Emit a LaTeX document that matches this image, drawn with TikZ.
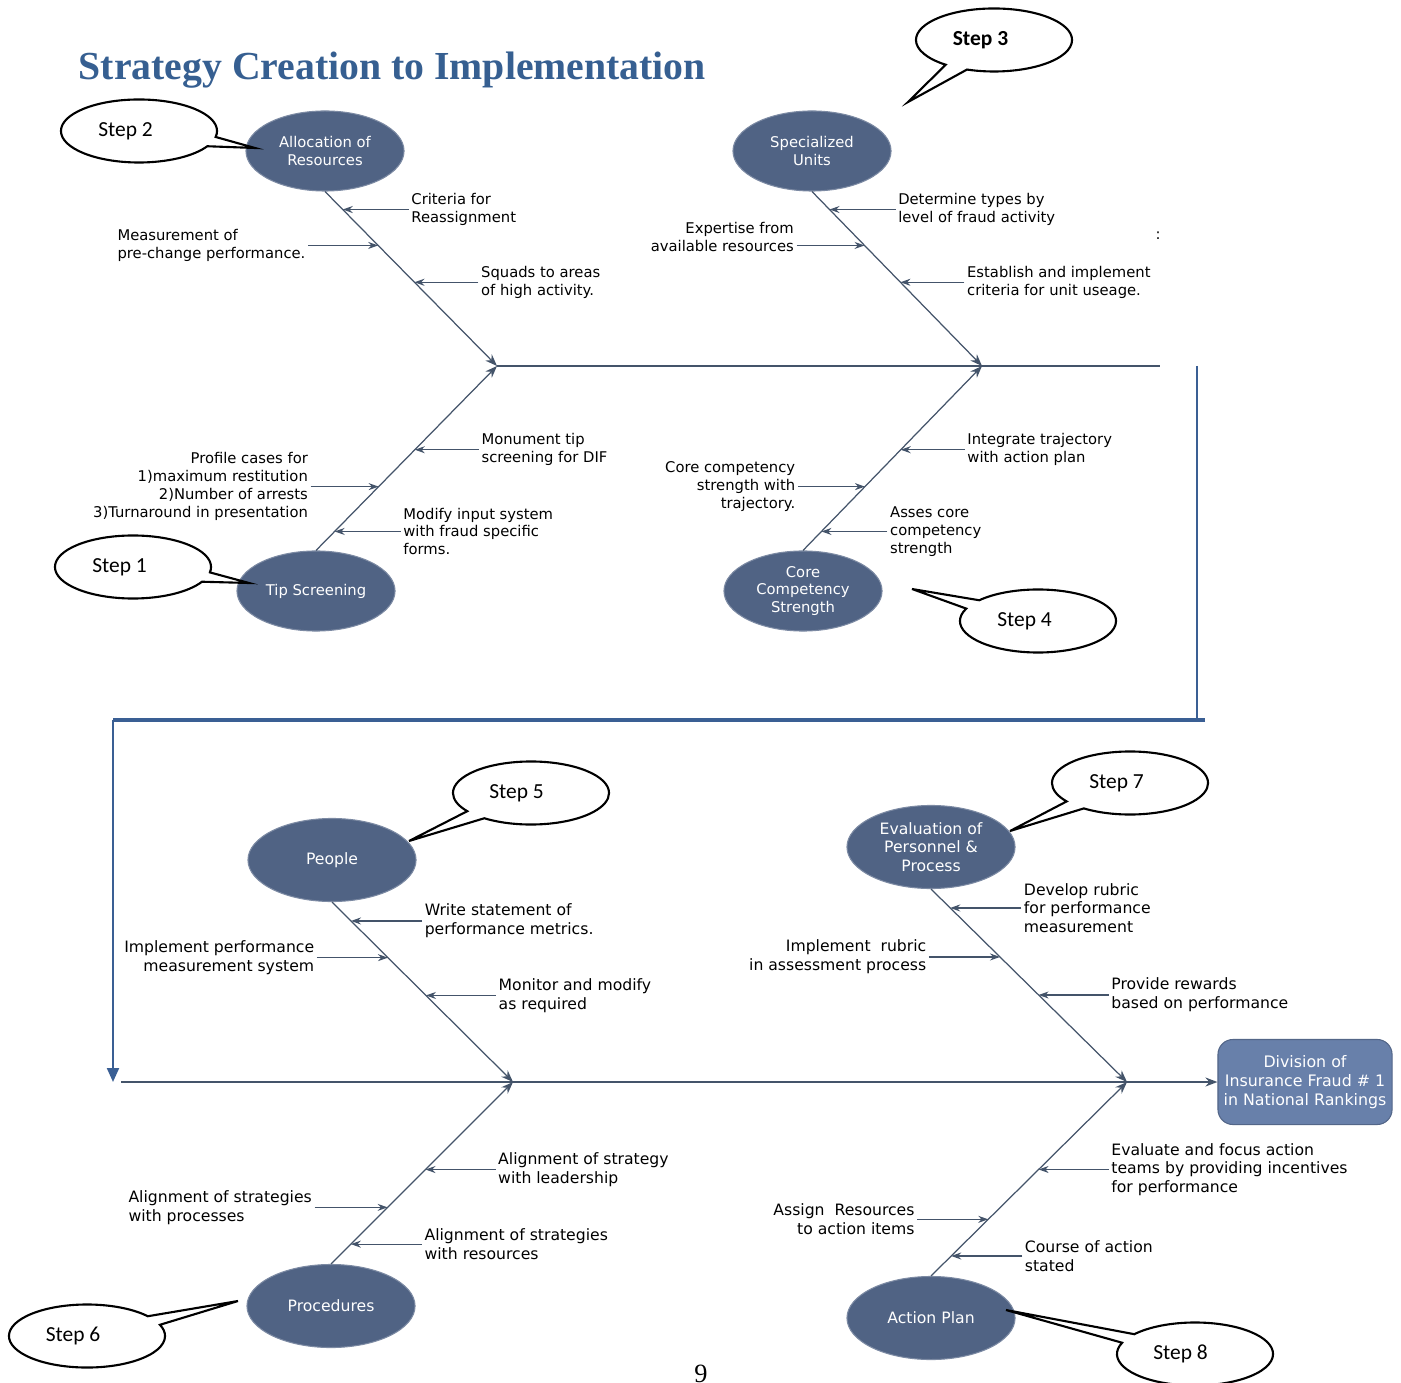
\documentclass[tikz,border=0pt]{standalone}
\usepackage{fontspec}
\setmainfont{DejaVu Sans}
\newfontfamily\stepfont{Carlito}
\newfontfamily\headfont{Liberation Serif}
\usepackage{tikz}
\usetikzlibrary{shapes, shapes.callouts, calc, positioning, arrows.meta}
\definecolor{bonecol}{RGB}{68,84,106}
\definecolor{causefill}{RGB}{80,99,132}
\definecolor{flowcol}{RGB}{58,95,148}
\definecolor{headcol}{RGB}{54,95,145}
\definecolor{goalfill}{RGB}{104,128,170}
\newcommand*{\txt}{\fontsize{4.2}{5.1}\selectfont}
\newcommand*{\txtb}{\fontsize{4.45}{5.3}\selectfont}
\tikzset{
 cause/.style={ellipse, fill=causefill, draw=causefill!75!white, line width=0.3pt, text=white, inner sep=0pt, minimum width=1.58cm, minimum height=0.8cm, align=center, font=\txt},
 bigcause/.style={cause, minimum width=1.68cm, minimum height=0.83cm, font=\txtb},
 stepcall/.style={ellipse callout, draw=black, line width=0.6pt, fill=white, inner sep=0pt, minimum width=1.56cm, minimum height=0.63cm, callout pointer arc=18, font=\stepfont\fontsize{6.1}{7}\selectfont},
 bone/.style={draw=bonecol, line width=0.35pt, -{Stealth[length=1.2mm, width=0.9mm]}},
 sub/.style={draw=bonecol, line width=0.35pt, -{Stealth[length=1mm, width=0.7mm]}},
 spine/.style={draw=bonecol, line width=0.5pt},
 flow/.style={draw=flowcol, line width=0.6pt},
 lbl/.style={font=\txt, inner sep=0.02cm, align=left},
 rlbl/.style={font=\txt, inner sep=0.02cm, align=right},
 lblb/.style={lbl, font=\txtb},
 rlblb/.style={rlbl, font=\txtb},
 goalbox/.style={rectangle, rounded corners=0.15cm, fill=goalfill, draw=goalfill!80!black, line width=0.3pt, text=white, minimum width=1.74cm, minimum height=0.85cm, inner sep=0pt, align=center, font=\fontsize{4.5}{5.4}\selectfont},
}

\begin{document}
\begin{tikzpicture}[x=0.01cm, y=-0.01cm]
 \useasboundingbox (0,0) rectangle (1401,1383);
 \node[anchor=base west, text=headcol, inner sep=0, font=\headfont\bfseries\fontsize{11.3}{13}\selectfont] (title) at (78,80) {Strategy Creation to Implementation};

 \node[cause] (alloc) at (325,151) {Allocation of\\Resources};
 \node[cause] (spec) at (812,151) {Specialized\\Units};
 \node[cause] (tip) at (316,591) {Tip Screening};
 \node[cause] (core) at (803,591) {Core\\Competency\\Strength};
 \node[bigcause] (people) at (332,860) {People};
 \node[bigcause] (evalp) at (931,847) {Evaluation of\\Personnel \&\\Process};
 \node[bigcause] (proc) at (331,1306) {Procedures};
 \node[bigcause] (action) at (931,1318) {Action Plan};
 \node[goalbox] (goal) at (1305,1082) {Division of\\Insurance Fraud \# 1\\in National Rankings};

 \coordinate (j1) at (497,366);
 \coordinate (j2) at (982,366);
 \coordinate (j3) at (513,1082);
 \coordinate (j4) at (1127,1082);
 \coordinate (s1) at (1160,366);
 \coordinate (s3) at (121,1082);
 \coordinate (f1) at (1197,366);
 \coordinate (f2) at (1197,720);
 \coordinate (f3) at (1205,720);
 \coordinate (f4) at (113,720);
 \coordinate (f5) at (113,1082);

 \draw[spine] (j1) -- (s1);
 \draw[flow] (f1) -- (f2);
 \draw[flow, line width=1pt] (f3) -- (f4);
 \draw[flow, -{Triangle[length=1.4mm, width=1.2mm]}] (f4) -- (f5);
 \draw[spine, -{Stealth[length=1.2mm, width=0.9mm]}] (s3) -- (goal.west);

 \draw[bone] (alloc.south) -- coordinate[pos=.103] (a1) coordinate[pos=.309] (a2) coordinate[pos=.52] (a3) (j1);
 \draw[bone] (tip.north) -- coordinate[pos=.103] (t1) coordinate[pos=.346] (t2) coordinate[pos=.546] (t3) (j1);
 \draw[bone] (spec.south) -- coordinate[pos=.103] (u1) coordinate[pos=.309] (u2) coordinate[pos=.52] (u3) (j2);
 \draw[bone] (core.north) -- coordinate[pos=.103] (k1) coordinate[pos=.346] (k2) coordinate[pos=.546] (k3) (j2);
 \draw[bone] (people.south) -- coordinate[pos=.105] (q1) coordinate[pos=.309] (q2) coordinate[pos=.519] (q3) (j3);
 \draw[bone] (proc.north) -- coordinate[pos=.109] (r1) coordinate[pos=.311] (r2) coordinate[pos=.519] (r3) (j3);
 \draw[bone] (evalp.south) -- coordinate[pos=.098] (v1) coordinate[pos=.352] (v2) coordinate[pos=.549] (v3) (j4);
 \draw[bone] (action.north) -- coordinate[pos=.103] (w1) coordinate[pos=.292] (w2) coordinate[pos=.549] (w3) (j4);

 \node[lbl, right=0.66cm of a1] (crit) {Criteria for\\Reassignment};
 \node[lbl, left=0.70cm of a2] (meas) {Measurement of\\pre-change performance.};
 \node[lbl, right=0.64cm of a3] (squad) {Squads to areas\\of high activity.};
 \node[lbl, right=0.66cm of t1] (modif) {Modify input system\\with fraud specific\\forms.};
 \node[rlbl, left=0.68cm of t2] (prof) {Profile cases for\\1)maximum restitution\\2)Number of arrests\\3)Turnaround in presentation};
 \node[lbl, right=0.64cm of t3] (monu) {Monument tip\\screening for DIF};
 \node[lbl, right=0.66cm of u1] (determ) {Determine types by\\level of fraud activity};
 \node[rlbl, left=0.68cm of u2, yshift=0.085cm] (expert) {Expertise from\\available resources};
 \node[lbl, right=0.64cm of u3] (estab) {Establish and implement\\criteria for unit useage.};
 \node[lbl, right=0.66cm of k1] (asses) {Asses core\\competency\\strength};
 \node[rlbl, left=0.67cm of k2] (corecomp) {Core competency\\strength with\\trajectory.};
 \node[lbl, right=0.64cm of k3] (integ) {Integrate trajectory\\with action plan};
 \node[lblb, right=0.71cm of q1] (write) {Write statement of\\performance metrics.};
 \node[rlblb, left=0.71cm of q2] (implperf) {Implement performance\\measurement system};
 \node[lblb, right=0.70cm of q3] (monit) {Monitor and modify\\as required};
 \node[lblb, right=0.71cm of r1] (alres) {Alignment of strategies\\with resources};
 \node[lblb, left=0.73cm of r2] (alproc) {Alignment of strategies\\with processes};
 \node[lblb, right=0.70cm of r3] (allead) {Alignment of strategy\\with leadership};
 \node[lblb, right=0.71cm of v1] (devel) {Develop rubric\\for performance\\measurement};
 \node[rlblb, left=0.71cm of v2] (implrub) {Implement\ \ rubric\\in assessment process};
 \node[lblb, right=0.70cm of v3] (reward) {Provide rewards\\based on performance};
 \node[lblb, right=0.71cm of w1] (course) {Course of action\\stated};
 \node[rlblb, left=0.71cm of w2] (assign) {Assign\ \ Resources\\to action items};
 \node[lblb, right=0.70cm of w3] (evalfoc) {Evaluate and focus action\\teams by providing incentives\\for performance};

 \draw[sub] (crit.west) -- (a1);
 \draw[sub] (meas.east) -- (a2);
 \draw[sub] (squad.west) -- (a3);
 \draw[sub] (modif.west) -- (t1);
 \draw[sub] (prof.east) -- (t2);
 \draw[sub] (monu.west) -- (t3);
 \draw[sub] (determ.west) -- (u1);
 \draw[sub] (expert.east |- u2) -- (u2);
 \draw[sub] (estab.west) -- (u3);
 \draw[sub] (asses.west) -- (k1);
 \draw[sub] (corecomp.east) -- (k2);
 \draw[sub] (integ.west) -- (k3);
 \draw[sub] (write.west) -- (q1);
 \draw[sub] (implperf.east) -- (q2);
 \draw[sub] (monit.west) -- (q3);
 \draw[sub] (alres.west) -- (r1);
 \draw[sub] (alproc.east) -- (r2);
 \draw[sub] (allead.west) -- (r3);
 \draw[sub] (devel.west) -- (v1);
 \draw[sub] (implrub.east) -- (v2);
 \draw[sub] (reward.west) -- (v3);
 \draw[sub] (course.west) -- (w1);
 \draw[sub] (assign.east) -- (w2);
 \draw[sub] (evalfoc.west) -- (w3);

 \node[font=\txt, inner sep=0] (colon) at (1158,236) {:};

 \coordinate (p1) at (249,583);
 \coordinate (p2) at (255,148);
 \coordinate (p3) at (908,102);
 \coordinate (p4) at (912,589);
 \coordinate (p5) at (409,841);
 \coordinate (p6) at (238,1301);
 \coordinate (p7) at (1010,831);
 \coordinate (p8) at (1006,1310);
 \node[stepcall, callout absolute pointer={(p1)}] (step1) at (133,567) {Step 1\kern0.27cm};
 \node[stepcall, callout absolute pointer={(p2)}] (step2) at (139,131) {Step 2\kern0.27cm};
 \node[stepcall, callout absolute pointer={(p3)}] (step3) at (994,40) {\bfseries Step 3\kern0.27cm};
 \node[stepcall, callout absolute pointer={(p4)}] (step4) at (1038,621) {Step 4\kern0.27cm};
 \node[stepcall, callout absolute pointer={(p5)}] (step5) at (531,793) {Step 5\kern0.29cm};
 \node[stepcall, callout absolute pointer={(p6)}] (step6) at (87,1336) {Step 6\kern0.28cm};
 \node[stepcall, callout absolute pointer={(p7)}] (step7) at (1130,783) {Step 7\kern0.27cm};
 \node[stepcall, callout absolute pointer={(p8)}] (step8) at (1195,1354) {Step 8\kern0.29cm};

 \node[anchor=base, inner sep=0, font=\headfont\fontsize{7.5}{9}\selectfont] (pagenum) at (701,1382) {9};
\end{tikzpicture}
\end{document}
